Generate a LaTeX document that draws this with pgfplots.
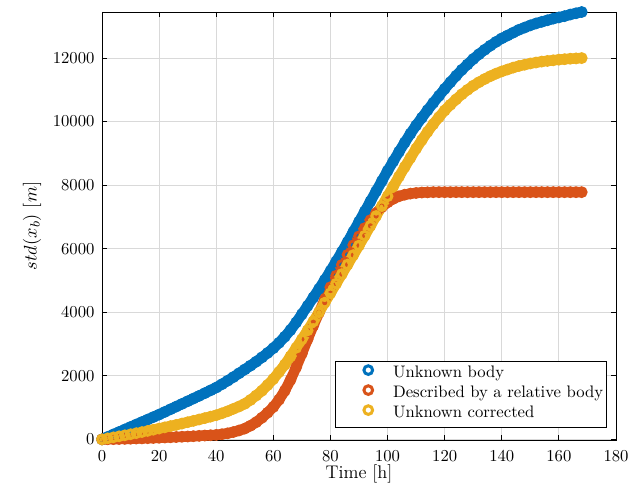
\documentclass[border=0pt]{standalone}
\usepackage{pgfplots}
\usepackage{pgfplotstable}
\pgfplotsset{compat=1.18}
\definecolor{mblue}{rgb}{0,0.447,0.741}
\definecolor{morange}{rgb}{0.850,0.325,0.098}
\definecolor{myellow}{rgb}{0.929,0.694,0.125}
\pgfplotstableread{
x y
0 0
2 78
4 156
6 234
8 312
10 390
12 468
14 546
16 624
18 702
20 780
22 864
24 948
26 1032
28 1116
30 1200
32 1284
34 1368
36 1454
38 1542
40 1630
42 1735
44 1845
46 1960
48 2080
50 2200
52 2320
54 2445
56 2580
58 2720
60 2870
62 3040
64 3230
66 3440
68 3680
70 3940
72 4200
74 4465
76 4735
78 5015
80 5300
82 5600
84 5900
86 6210
88 6530
90 6850
92 7170
94 7490
96 7810
98 8130
100 8450
102 8750
104 9050
106 9340
108 9620
110 9880
112 10120
114 10360
116 10590
118 10810
120 11030
122 11240
124 11440
126 11630
128 11800
130 11970
132 12120
134 12260
136 12390
138 12510
140 12620
142 12710
144 12800
146 12890
148 12960
150 13030
152 13090
154 13140
156 13190
158 13240
160 13280
162 13320
164 13370
166 13410
168 13450
}\blueT
\pgfplotstableread{
x y
0 0
2 4
4 8
6 12
8 16
10 20
12 26
14 32
16 38
18 44
20 50
22 58
24 66
26 74
28 82
30 90
32 100
34 110
36 120
38 130
40 140
42 162
44 190
46 230
48 280
50 340
52 430
54 540
56 680
58 840
60 1020
62 1250
64 1530
66 1870
68 2270
70 2700
72 3150
74 3580
76 3990
78 4400
80 4790
82 5150
84 5490
86 5810
88 6110
90 6390
92 6650
94 6900
96 7120
98 7310
100 7460
102 7570
104 7650
106 7700
108 7735
110 7755
112 7768
114 7775
116 7780
118 7780
120 7780
122 7780
124 7780
126 7780
128 7780
130 7780
132 7780
134 7780
136 7780
138 7780
140 7780
142 7780
144 7780
146 7780
148 7780
150 7780
152 7780
154 7780
156 7780
158 7780
160 7780
162 7780
164 7780
166 7780
168 7780
}\orangeT
\pgfplotstableread{
x y
0 0
2 32
4 64
6 96
8 128
10 160
12 195
14 230
16 266
18 303
20 340
22 378
24 417
26 456
28 497
30 540
32 582
34 625
36 669
38 714
40 760
42 820
44 885
46 960
48 1035
50 1120
52 1240
54 1380
56 1530
58 1710
60 1900
62 2120
64 2350
66 2610
68 2880
70 3150
72 3430
74 3710
76 4000
78 4300
80 4600
82 4900
84 5200
86 5500
88 5800
90 6100
92 6410
94 6720
96 7030
98 7340
100 7650
102 7960
104 8270
106 8570
108 8860
110 9150
112 9420
114 9680
116 9920
118 10140
120 10350
122 10530
124 10700
126 10860
128 11000
130 11130
132 11240
134 11340
136 11430
138 11510
140 11580
142 11640
144 11700
146 11750
148 11790
150 11830
152 11860
154 11890
156 11910
158 11930
160 11950
162 11965
164 11980
166 11990
168 12000
}\yellowT
\begin{document}
\begin{tikzpicture}
\begin{axis}[
  scale only axis, width=308.4pt, height=256.8pt,
  xmin=0, xmax=180, ymin=-20, ymax=13450,
  xtick={0,20,...,180}, ytick={0,2000,...,12000},
  scaled y ticks=false,
  yticklabel style={/pgf/number format/1000 sep={}, xshift=-1pt},
  xticklabel style={yshift=-3pt},
  grid=major, major grid style={color=black!15, line width=0.5pt},
  tick align=inside, major tick length=3pt,
  axis line style={line width=0.5pt}, tick style={black, line width=0.5pt},
  xlabel={Time [h]}, ylabel={$std(x_b)\ [m]$},
  xlabel style={at={(axis description cs:0.5,-0.079)}, anchor=center},
  ylabel style={at={(axis description cs:-0.136,0.5)}, anchor=center},
  label style={font=\fontsize{11}{13}\selectfont},
  ticklabel style={font=\fontsize{10}{12}\selectfont},
  clip=false,
  legend cell align=left,
  legend image code/.code={\path[draw=none,fill=none] (0pt,-2pt) rectangle (32.7pt,2pt); \draw[#1] plot coordinates {(19.8pt,2.5pt)};},
  legend style={at={(0.9825,0.028)}, anchor=south east, draw=black, line width=0.5pt,
    inner xsep=0pt, inner ysep=2pt, row sep=0pt,
    font=\fontsize{10}{12}\selectfont,
    nodes={inner ysep=0pt, text height=8pt, text depth=4pt}},
]
\addplot[forget plot, mblue, line width=6.3pt, line join=round, line cap=round] table {\blueT};
\addplot[only marks, mark=o, mblue, mark size=2.6pt, line width=1.8pt] table {\blueT};
\addlegendentry{Unknown body}
\addplot[forget plot, morange, line width=6.3pt, line join=round, line cap=round] table {\orangeT};
\addplot[only marks, mark=o, morange, mark size=2.6pt, line width=1.8pt] table {\orangeT};
\addlegendentry{Described by a relative body}
\addplot[forget plot, myellow, line width=6.3pt, line join=round, line cap=round] table {\yellowT};
\addplot[only marks, mark=o, myellow, mark size=2.6pt, line width=1.8pt] table {\yellowT};
\addlegendentry{Unknown corrected}
\end{axis}
\path (current axis.south west) ++(-61.2pt,-33.6pt) coordinate (bbA);
\path (current axis.north east) ++(8.4pt,7.2pt) coordinate (bbB);
\pgfresetboundingbox
\path[use as bounding box] (bbA) rectangle (bbB);
\end{tikzpicture}
\end{document}
